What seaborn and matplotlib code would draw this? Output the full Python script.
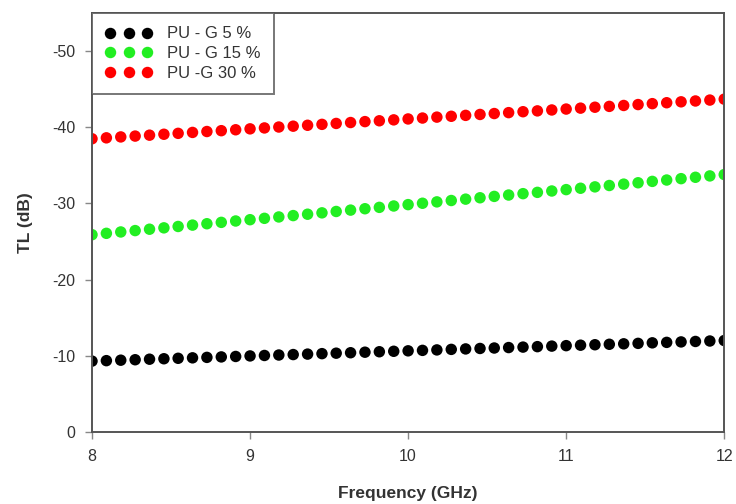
import matplotlib
matplotlib.use("Agg")
import matplotlib.pyplot as plt
import seaborn as sns
import pandas as pd

freq = [8.000, 8.091, 8.182, 8.273, 8.364, 8.455, 8.545, 8.636, 8.727, 8.818,
        8.909, 9.000, 9.091, 9.182, 9.273, 9.364, 9.455, 9.545, 9.636, 9.727,
        9.818, 9.909, 10.000, 10.091, 10.182, 10.273, 10.364, 10.455, 10.545, 10.636,
        10.727, 10.818, 10.909, 11.000, 11.091, 11.182, 11.273, 11.364, 11.455, 11.545,
        11.636, 11.727, 11.818, 11.909, 12.000]

tl_5 = [-9.30, -9.36, -9.42, -9.48, -9.55, -9.61, -9.67, -9.73, -9.79, -9.85,
        -9.91, -9.98, -10.04, -10.10, -10.16, -10.22, -10.28, -10.34, -10.40, -10.47,
        -10.53, -10.59, -10.65, -10.71, -10.77, -10.84, -10.90, -10.96, -11.02, -11.08,
        -11.14, -11.20, -11.27, -11.33, -11.39, -11.45, -11.51, -11.57, -11.63, -11.70,
        -11.76, -11.82, -11.88, -11.94, -12.00]

tl_15 = [-25.90, -26.08, -26.26, -26.44, -26.62, -26.80, -26.98, -27.16, -27.34, -27.52,
         -27.70, -27.87, -28.05, -28.23, -28.41, -28.59, -28.77, -28.95, -29.13, -29.31,
         -29.49, -29.67, -29.85, -30.03, -30.21, -30.39, -30.57, -30.75, -30.93, -31.11,
         -31.29, -31.46, -31.64, -31.82, -32.00, -32.18, -32.36, -32.54, -32.72, -32.90,
         -33.08, -33.26, -33.44, -33.62, -33.80]

tl_30 = [-38.50, -38.62, -38.74, -38.85, -38.97, -39.09, -39.21, -39.33, -39.45, -39.56,
         -39.68, -39.80, -39.92, -40.04, -40.15, -40.27, -40.39, -40.51, -40.63, -40.75,
         -40.86, -40.98, -41.10, -41.22, -41.34, -41.45, -41.57, -41.69, -41.81, -41.93,
         -42.05, -42.16, -42.28, -42.40, -42.52, -42.64, -42.75, -42.87, -42.99, -43.11,
         -43.23, -43.35, -43.46, -43.58, -43.70]

labels = ["PU - G 5 %", "PU - G 15 %", "PU -G 30 %"]
colors = ["#000000", "#22ee22", "#ff0000"]
x_ticks = [8, 9, 10, 11, 12]
y_ticks = [0, -10, -20, -30, -40, -50]

sns.set_theme(style="white")
plt.rcParams["font.family"] = ["Liberation Sans", "DejaVu Sans"]
plt.rcParams["axes.unicode_minus"] = False

df = pd.concat([
    pd.DataFrame({"freq": freq, "tl": tl_5, "series": labels[0]}),
    pd.DataFrame({"freq": freq, "tl": tl_15, "series": labels[1]}),
    pd.DataFrame({"freq": freq, "tl": tl_30, "series": labels[2]}),
])

fig = plt.figure(figsize=(7.36, 5.04), dpi=100)
ax = fig.add_axes([0.125, 0.143, 0.859, 0.831])

sns.scatterplot(data=df, x="freq", y="tl", hue="series", palette=colors,
                hue_order=labels, s=68, edgecolor="none", linewidth=0, ax=ax)

ax.set_xlim(8, 12)
ax.set_ylim(0, -55)
ax.set_xticks(x_ticks)
ax.set_yticks(y_ticks)
ax.set_xticklabels([str(t) for t in x_ticks])
ax.set_yticklabels([str(t) for t in y_ticks])
ax.tick_params(axis="both", which="major", direction="out", length=5, width=1,
               color="#888888", labelsize=11.5, labelcolor="#333333", pad=7)
ax.tick_params(left=True, bottom=True)

for sp in ax.spines.values():
    sp.set_color("#555555")
    sp.set_linewidth(1.4)
    sp.set_visible(True)

ax.set_xlabel("Frequency (GHz)", fontsize=12.5, fontweight="bold", color="#333333", labelpad=16)
ax.set_ylabel("TL (dB)", fontsize=12.5, fontweight="bold", color="#333333", labelpad=14)

leg = ax.legend(loc="upper left", bbox_to_anchor=(0, 1), borderaxespad=0, numpoints=3,
                scatterpoints=3, frameon=True, fancybox=False, fontsize=12,
                markerscale=1.0, handletextpad=0.9, labelspacing=0.28, borderpad=0.8,
                handlelength=2.8)
leg.get_frame().set_edgecolor("#555555")
leg.get_frame().set_linewidth(1.4)
for t in leg.get_texts():
    t.set_color("#333333")

fig.savefig("out.png", dpi=100)
